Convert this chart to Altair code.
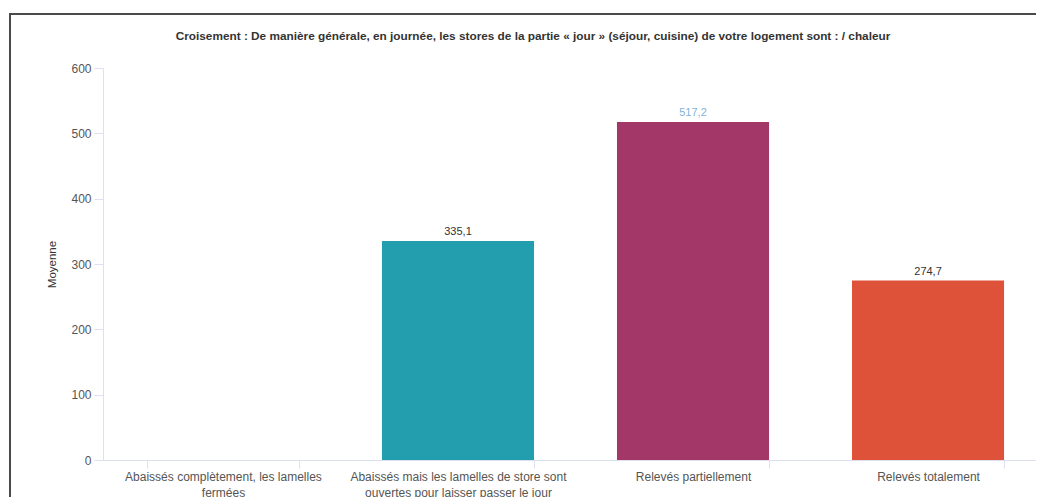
import json
import altair as alt
import pandas as pd

title_text = "Croisement : De manière générale, en journée, les stores de la partie « jour » (séjour, cuisine) de votre logement sont : / chaleur"
categories = [
    "Abaissés complètement, les lamelles fermées",
    "Abaissés mais les lamelles de store sont ouvertes pour laisser passer le jour",
    "Relevés partiellement",
    "Relevés totalement",
]
label_lines = [
    ["Abaissés complètement, les lamelles", "fermées"],
    ["Abaissés mais les lamelles de store sont", "ouvertes pour laisser passer le jour"],
    ["Relevés partiellement"],
    ["Relevés totalement"],
]
values = [None, 335.1, 517.2, 274.7]
bar_colors = ["#3a6fb0", "#229EAE", "#A33767", "#DE5239"]
value_label_colors = ["#333333", "#333333", "#7FB3DA", "#333333"]
y_ticks = [0, 100, 200, 300, 400, 500, 600]

df = pd.DataFrame({
    "cat": categories,
    "value": values,
    "color": bar_colors,
    "lcolor": value_label_colors,
})
df["text"] = [("" if v is None else f"{v:.1f}".replace(".", ",")) for v in values]

label_expr = ""
for c, lines in zip(categories, label_lines):
    label_expr += f"datum.value == {json.dumps(c)} ? {json.dumps(lines)} : "
label_expr += "datum.label"

FONT = "Liberation Sans"

x_enc = alt.X(
    "cat:N",
    sort=categories,
    title=None,
    scale=alt.Scale(paddingInner=0.353, paddingOuter=0.187, range=[0, 945]),
    axis=alt.Axis(
        labelAngle=0,
        labelExpr=label_expr,
        tickBand="extent",
        tickSize=8,
        labelPadding=3,
        labelLineHeight=16,
        labelBaseline="top",
        labelLimit=400,
    ),
)
y_enc = alt.Y(
    "value:Q",
    title="Moyenne",
    scale=alt.Scale(domain=[0, 600]),
    axis=alt.Axis(values=y_ticks, grid=False, tickSize=9, labelPadding=3, titlePadding=13),
)

bars = alt.Chart(df).mark_bar().encode(
    x=x_enc,
    y=y_enc,
    color=alt.Color("color:N", scale=None),
)
texts = alt.Chart(df).mark_text(baseline="bottom", dy=-4, fontSize=11, font=FONT).encode(
    x=alt.X("cat:N", sort=categories),
    y=alt.Y("value:Q"),
    text="text:N",
    color=alt.Color("lcolor:N", scale=None),
)

one = alt.Data(values=[{"k": 1}])
title_mark = alt.Chart(one).mark_text(
    fontSize=11.8, fontWeight="bold", color="#333333", font=FONT, align="center", baseline="middle"
).encode(x=alt.value(430), y=alt.value(-32), text=alt.value(title_text))

frame_top = alt.Chart(one).mark_rule(color="#4a4a4a", strokeWidth=2).encode(
    x=alt.value(-94), x2=alt.value(1000), y=alt.value(-54)
)
frame_left = alt.Chart(one).mark_rule(color="#4a4a4a", strokeWidth=2).encode(
    x=alt.value(-93), y=alt.value(-55), y2=alt.value(500)
)

chart = alt.layer(bars, texts, title_mark, frame_top, frame_left).properties(
    width=933,
    height=392,
    autosize=alt.AutoSizeParams(type="none"),
    padding={"left": 95, "top": 60, "right": 0, "bottom": 37},
).configure_view(stroke=None).configure_axis(
    domainColor="#dde1ef",
    tickColor="#dde1ef",
    labelColor="#555555",
    labelFont=FONT,
    labelFontSize=12,
    titleFont=FONT,
    titleFontSize=11.5,
    titleFontWeight="normal",
    titleColor="#333333",
)

chart.save("out.html", embed_options={"renderer": "svg", "actions": False})
